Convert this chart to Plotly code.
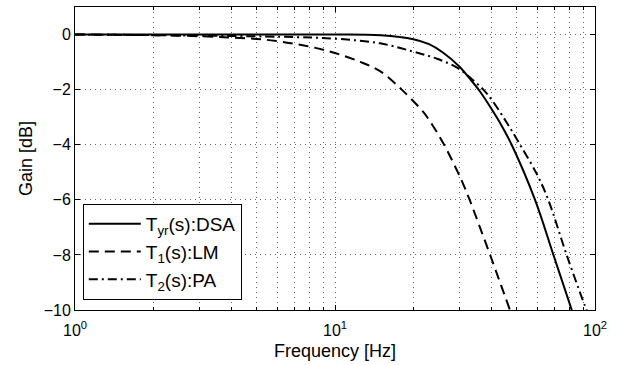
import plotly.graph_objects as go

# Frequency [Hz] and gain [dB]
freq_dsa = [1, 5, 10, 15, 20, 23, 26, 30, 33, 36, 40, 43.1, 47.8, 58.8, 69.2, 81.4]
gain_dsa = [0, 0, 0, -0.03, -0.17, -0.35, -0.65, -1.15, -1.6, -2.05, -2.7, -3.2, -4.0, -6.0, -8.0, -10.0]

freq_lm = [1, 2.53, 5, 6, 7, 8, 9, 10, 12.5, 14.9, 18.06, 21.8, 23.2, 26.1, 30.7, 33.1, 36.1, 39.5, 43.5, 47.1]
gain_lm = [0, -0.04, -0.16, -0.24, -0.34, -0.44, -0.55, -0.67, -0.99, -1.33, -2.0, -2.8, -3.15, -3.95, -5.3, -6.05, -7.0, -8.0, -9.1, -10.0]

freq_pa = [1, 6.15, 10, 14.9, 20, 24.7, 29.7, 33.9, 37.2, 40, 45.8, 51.5, 60, 66.1, 77.8, 91.5, 93]
gain_pa = [0, -0.08, -0.15, -0.32, -0.62, -0.88, -1.22, -1.65, -2.0, -2.36, -3.2, -4.0, -5.1, -6.0, -8.0, -9.85, -10.0]

names = ["T<sub>yr</sub>(s):DSA", "T<sub>1</sub>(s):LM", "T<sub>2</sub>(s):PA"]

x_tickvals = [1, 10, 100]
x_ticktext = ["10<sup>0</sup>", "10<sup>1</sup>", "10<sup>2</sup>"]
x_minor = [2, 3, 4, 5, 6, 7, 8, 9, 20, 30, 40, 50, 60, 70, 80, 90]
y_tickvals = [0, -2, -4, -6, -8, -10]

FONT = "Liberation Sans, Arial, Helvetica, sans-serif"

fig = go.Figure()
fig.add_trace(go.Scatter(x=freq_dsa, y=gain_dsa, mode="lines", name=names[0],
                         line=dict(color="black", width=2, shape="spline", smoothing=1.0)))
fig.add_trace(go.Scatter(x=freq_lm, y=gain_lm, mode="lines", name=names[1],
                         line=dict(color="black", width=2, dash="10px,6px", shape="spline", smoothing=1.0)))
fig.add_trace(go.Scatter(x=freq_pa, y=gain_pa, mode="lines", name=names[2],
                         line=dict(color="black", width=2, dash="9px,4px,2px,4px", shape="spline", smoothing=1.0)))

grid = dict(gridcolor="#666666", gridwidth=1, griddash="1px,4px")

fig.update_layout(
    width=623, height=365,
    margin=dict(l=75, r=28, t=7, b=55),
    paper_bgcolor="white", plot_bgcolor="white",
    font=dict(family=FONT, size=16, color="black"),
    showlegend=True,
    legend=dict(x=0.015, y=0.35, xanchor="left", yanchor="top",
                bgcolor="white", bordercolor="black", borderwidth=1,
                font=dict(size=19, family=FONT), itemwidth=52,
                tracegroupgap=0),
    xaxis=dict(type="log", range=[0, 2], tickvals=x_tickvals, ticktext=x_ticktext,
               showline=True, linecolor="black", linewidth=1, mirror="allticks",
               ticks="inside", ticklen=5, tickcolor="black", ticklabelstandoff=6,
               showgrid=True, **grid,
               minor=dict(tickvals=x_minor, ticks="inside", ticklen=3, tickcolor="black",
                          showgrid=True, **grid),
               title=dict(text="Frequency [Hz]", font=dict(size=18), standoff=6),
               zeroline=False, tickfont=dict(size=16)),
    yaxis=dict(range=[-10, 1], tickvals=y_tickvals,
               showline=True, linecolor="black", linewidth=1, mirror="allticks",
               ticks="inside", ticklen=5, tickcolor="black",
               showgrid=True, **grid, zeroline=False,
               title=dict(text="Gain [dB]", font=dict(size=18), standoff=6),
               tickfont=dict(size=16)),
)

fig.write_html("out.html")
